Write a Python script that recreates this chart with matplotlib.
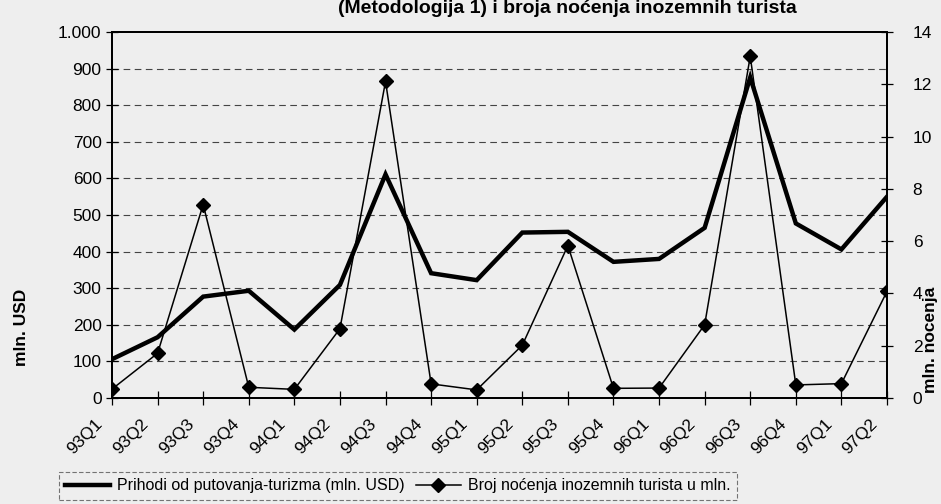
import matplotlib
matplotlib.use("Agg")
import matplotlib.pyplot as plt
import matplotlib.transforms as mtransforms

quarters = ['93Q1', '93Q2', '93Q3', '93Q4', '94Q1', '94Q2', '94Q3', '94Q4',
            '95Q1', '95Q2', '95Q3', '95Q4', '96Q1', '96Q2', '96Q3', '96Q4',
            '97Q1', '97Q2']
# prihodi od putovanja-turizma, mln. USD
revenue = [106, 166, 277, 293, 187, 309, 611, 341, 322, 452, 454, 372, 380,
           465, 876, 477, 406, 550]
# broj nocenja inozemnih turista, mln.
nights = [0.34, 1.71, 7.40, 0.41, 0.33, 2.65, 12.11, 0.54, 0.31, 2.02, 5.83,
          0.37, 0.38, 2.80, 13.07, 0.50, 0.55, 4.08]

left_ticks = [0, 100, 200, 300, 400, 500, 600, 700, 800, 900, 1000]
left_labels = ['0', '100', '200', '300', '400', '500', '600', '700', '800',
               '900', '1.000']
right_ticks = [0, 2, 4, 6, 8, 10, 12, 14]

plt.rcParams['font.family'] = ['Liberation Sans', 'DejaVu Sans']
bg = '#eeeeee'

fig = plt.figure(figsize=(9.41, 5.04), dpi=100, facecolor=bg)
ax = fig.add_axes([112 / 941, 1 - 398 / 504, 775 / 941, 366 / 504])
ax.set_facecolor(bg)
ax2 = ax.twinx()

x = list(range(len(quarters)))
l1, = ax.plot(x, revenue, color='black', lw=3.2, solid_joinstyle='miter')
l2, = ax2.plot(x, nights, color='black', lw=1.1, marker='D', ms=7.5,
               markeredgecolor='black', markerfacecolor='black')

ax.set_xlim(0, len(quarters) - 1)
ax.set_ylim(0, 1000)
ax2.set_ylim(0, 14)

for v in left_ticks[1:-1]:
    ax.axhline(v, color='#444444', lw=0.8, dashes=(6, 4), zorder=0)

ax.set_yticks(left_ticks)
ax.set_yticklabels(left_labels, fontsize=12.5)
ax2.set_yticks(right_ticks)
ax2.set_yticklabels([str(t) for t in right_ticks], fontsize=12.5)
ax.set_xticks(x)
ax.set_xticklabels(quarters, fontsize=12.5, rotation=45, ha='right',
                   rotation_mode='anchor')

ax.tick_params(axis='y', direction='inout', length=9, width=0.9, pad=3)
ax2.tick_params(axis='y', direction='inout', length=9, width=0.9, pad=14)
ax.tick_params(axis='x', direction='inout', length=10, width=0.9, pad=8)

off = mtransforms.ScaledTranslation(-17 / 100, 0, fig.dpi_scale_trans)
for lab in ax.get_xticklabels():
    lab.set_transform(lab.get_transform() + off)

for a in (ax, ax2):
    for s in a.spines.values():
        s.set_color('black')
        s.set_linewidth(1.4)

fig.text(22 / 941, 1 - 327 / 504, 'mln. USD', rotation=90, fontsize=12.5,
         fontweight='bold', ha='center', va='center')
fig.text(930 / 941, 1 - 340 / 504, 'mln. nocenja', rotation=90, fontsize=12.5,
         fontweight='bold', ha='center', va='center')
fig.text(567 / 941, 1 - 13 / 504,
         '(Metodologija 1) i broja noćenja inozemnih turista',
         fontsize=14, fontweight='bold', ha='center', va='baseline')

leg = fig.legend([l1, l2],
                 ['Prihodi od putovanja-turizma (mln. USD)',
                  'Broj noćenja inozemnih turista u mln.'],
                 loc='upper left', bbox_to_anchor=(59 / 941, 1 - 472 / 504),
                 ncol=2, frameon=True, fancybox=False, borderpad=0.4,
                 handlelength=2.8, handletextpad=0.45, columnspacing=0.7,
                 borderaxespad=0, fontsize=11.5)
leg.get_frame().set_facecolor(bg)
leg.get_frame().set_edgecolor('#555555')
leg.get_frame().set_linewidth(0.8)
leg.get_frame().set_linestyle((0, (4, 2)))

fig.savefig('out.png', dpi=100, facecolor=bg)
